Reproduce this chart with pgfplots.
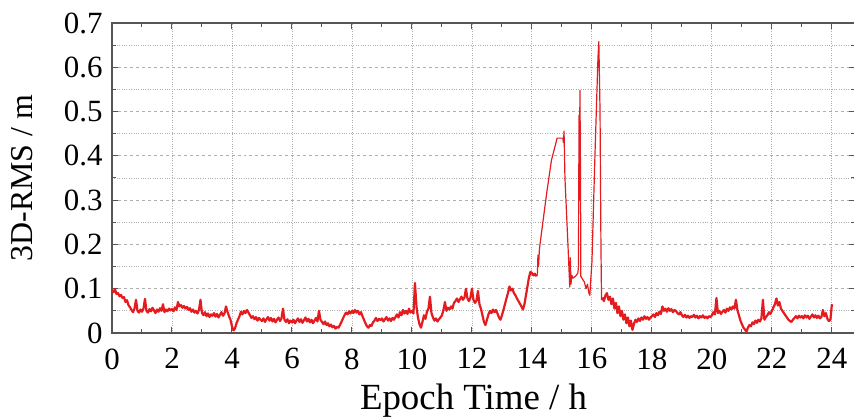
\documentclass[border=0pt]{standalone}
\usepackage{fontspec}
\setmainfont{Liberation Serif}
\usepackage{pgfplots}
\usepackage{pgfplotstable}
\pgfplotsset{compat=1.18}
\definecolor{lr}{RGB}{228,28,32}
\definecolor{spine}{RGB}{85,85,85}
\definecolor{gridc}{RGB}{175,175,175}

\pgfplotstableread[row sep=\\]{
y\\
0.097\\0.092\\0.099\\0.088\\0.090\\0.083\\0.086\\0.079\\0.081\\0.070\\0.074\\0.063\\0.058\\0.052\\0.047\\0.055\\0.075\\0.050\\0.046\\0.053\\
0.048\\0.055\\0.077\\0.050\\0.046\\0.054\\0.049\\0.057\\0.051\\0.045\\0.053\\0.048\\0.056\\0.050\\0.065\\0.047\\0.053\\0.049\\0.055\\0.051\\
0.054\\0.049\\0.058\\0.052\\0.070\\0.060\\0.063\\0.057\\0.061\\0.055\\0.059\\0.052\\0.056\\0.048\\0.053\\0.046\\0.050\\0.044\\0.052\\0.075\\
0.045\\0.040\\0.047\\0.038\\0.044\\0.036\\0.042\\0.039\\0.045\\0.037\\0.043\\0.035\\0.041\\0.047\\0.039\\0.044\\0.060\\0.048\\0.038\\0.030\\
0.015\\0.006\\0.010\\0.022\\0.030\\0.038\\0.048\\0.042\\0.050\\0.045\\0.052\\0.046\\0.040\\0.034\\0.038\\0.031\\0.036\\0.028\\0.034\\0.030\\
0.027\\0.033\\0.025\\0.031\\0.036\\0.028\\0.034\\0.026\\0.032\\0.024\\0.030\\0.035\\0.027\\0.033\\0.055\\0.030\\0.025\\0.031\\0.022\\0.028\\
0.024\\0.030\\0.022\\0.028\\0.033\\0.025\\0.031\\0.023\\0.029\\0.035\\0.026\\0.032\\0.024\\0.030\\0.022\\0.028\\0.034\\0.026\\0.050\\0.030\\
0.025\\0.020\\0.026\\0.018\\0.022\\0.015\\0.019\\0.013\\0.016\\0.010\\0.014\\0.012\\0.018\\0.025\\0.033\\0.040\\0.046\\0.042\\0.049\\0.044\\
0.050\\0.045\\0.052\\0.046\\0.050\\0.042\\0.047\\0.038\\0.030\\0.022\\0.015\\0.012\\0.018\\0.016\\0.024\\0.028\\0.034\\0.027\\0.032\\0.029\\
0.033\\0.026\\0.031\\0.036\\0.028\\0.033\\0.027\\0.034\\0.030\\0.036\\0.042\\0.035\\0.047\\0.040\\0.052\\0.044\\0.050\\0.043\\0.055\\0.046\\
0.050\\0.044\\0.113\\0.060\\0.035\\0.020\\0.012\\0.025\\0.040\\0.032\\0.048\\0.055\\0.082\\0.045\\0.035\\0.028\\0.033\\0.026\\0.031\\0.035\\
0.040\\0.052\\0.070\\0.050\\0.057\\0.053\\0.060\\0.055\\0.068\\0.072\\0.078\\0.070\\0.076\\0.082\\0.075\\0.080\\0.100\\0.078\\0.072\\0.080\\
0.100\\0.075\\0.068\\0.073\\0.095\\0.065\\0.055\\0.040\\0.025\\0.018\\0.030\\0.042\\0.050\\0.045\\0.053\\0.047\\0.052\\0.044\\0.035\\0.030\\
0.040\\0.052\\0.065\\0.078\\0.090\\0.105\\0.096\\0.100\\0.090\\0.085\\0.078\\0.072\\0.066\\0.060\\0.053\\0.065\\0.085\\0.105\\0.125\\0.138\\
0.135\\0.130\\0.134\\0.128\\
}\first

\pgfplotstableread[row sep=\\]{
y\\
0.080\\0.072\\0.085\\0.090\\0.075\\0.082\\0.065\\0.078\\0.055\\0.068\\0.045\\0.060\\0.038\\
0.050\\0.030\\0.042\\0.022\\0.035\\0.015\\0.028\\0.007\\0.020\\0.030\\0.025\\0.033\\0.027\\0.035\\0.030\\0.038\\0.032\\0.036\\0.030\\0.035\\
0.038\\0.042\\0.036\\0.045\\0.040\\0.048\\0.043\\0.060\\0.050\\0.055\\0.048\\0.056\\0.050\\0.054\\0.047\\0.052\\0.050\\0.045\\0.042\\0.047\\
0.040\\0.036\\0.041\\0.035\\0.039\\0.034\\0.038\\0.036\\0.041\\0.035\\0.039\\0.033\\0.038\\0.035\\0.040\\0.034\\0.037\\0.033\\0.038\\0.036\\
0.040\\0.047\\0.042\\0.079\\0.045\\0.050\\0.043\\0.048\\0.052\\0.046\\0.055\\0.050\\0.058\\0.053\\0.060\\0.055\\0.075\\0.052\\0.040\\0.028\\
0.020\\0.012\\0.008\\0.003\\0.012\\0.018\\0.015\\0.024\\0.020\\0.028\\0.023\\0.030\\0.026\\0.033\\0.075\\0.030\\0.036\\0.040\\0.047\\0.043\\
0.050\\0.058\\0.065\\0.078\\0.062\\0.070\\0.055\\0.050\\0.045\\0.040\\0.035\\0.030\\0.027\\0.025\\0.030\\0.034\\0.038\\0.033\\0.039\\0.035\\
0.038\\0.033\\0.040\\0.035\\0.039\\0.032\\0.037\\0.042\\0.035\\0.040\\0.034\\0.039\\0.033\\0.036\\0.052\\0.038\\0.045\\0.032\\0.027\\0.030\\
0.065\\
}\tail

\begin{document}
\begin{tikzpicture}
\begin{axis}[
  scale only axis,
  width=743bp, height=310bp,
  xmin=0, xmax=24.77, ymin=0, ymax=0.7,
  xtick={0,2,4,6,8,10,12,14,16,18,20,22,24},
  ytick={0,0.1,0.2,0.3,0.4,0.5,0.6,0.7},
  yticklabels={0,0.1,0.2,0.3,0.4,0.5,0.6,0.7},
  minor x tick num=1, minor y tick num=1,
  xmajorgrids, ymajorgrids, yminorgrids,
  x grid style={gridc, dotted, line width=0.9bp},
  major y grid style={gridc, dashed, line width=1bp},
  minor y grid style={gridc, dotted, line width=0.9bp},
  tick align=inside,
  major tick length=6bp, minor tick length=4bp,
  every tick/.style={spine, line width=1bp},
  axis line style={spine, line width=1.4bp},
  /pgf/number format/assume math mode=true,
  tick label style={font=\fontsize{31}{31}\selectfont},
  xticklabel style={yshift=-12bp},
  yticklabel style={xshift=-6bp},
  xlabel={Epoch Time / h},
  ylabel={3D-RMS / m},
  xlabel style={font=\fontsize{37}{37}\selectfont, yshift=-8bp, xshift=-10bp},
  ylabel style={font=\fontsize{32}{32}\selectfont, yshift=24bp},
]
\coordinate (sw) at (rel axis cs:0,0);
\coordinate (ne) at (rel axis cs:1,1);
\addplot[lr, line width=2.2bp, line join=round] table[x expr=\coordindex*0.05, y=y] {\first};
\addplot[lr, line width=1.2bp, line join=round] coordinates {
(14.15,0.128) (14.18,0.132) (14.20,0.176) (14.22,0.150) (14.25,0.190) (14.36,0.248) (14.50,0.320) (14.65,0.390) (14.84,0.440) (15.03,0.440) (15.05,0.430) (15.07,0.456) (15.10,0.350) (15.20,0.200) (15.26,0.104) (15.28,0.170) (15.30,0.110) (15.33,0.130) (15.37,0.124) (15.45,0.128) (15.53,0.135) (15.55,0.150) (15.57,0.492) (15.58,0.300) (15.60,0.548) (15.62,0.350) (15.63,0.128) (15.70,0.120) (15.75,0.115) (15.80,0.100) (15.85,0.110) (15.90,0.090) (15.93,0.085) (15.96,0.120) (16.00,0.160) (16.10,0.400) (16.20,0.620) (16.23,0.658) (16.27,0.500) (16.30,0.200) (16.32,0.075) (16.35,0.080)
};
\addplot[lr, line width=2.2bp, line join=round] table[x expr=16.35+\coordindex*0.05, y=y] {\tail};
\end{axis}
\pgfresetboundingbox
\path ([xshift=-112bp,yshift=-85bp]sw) rectangle ([xshift=-1bp,yshift=23bp]ne);
\end{tikzpicture}
\end{document}
